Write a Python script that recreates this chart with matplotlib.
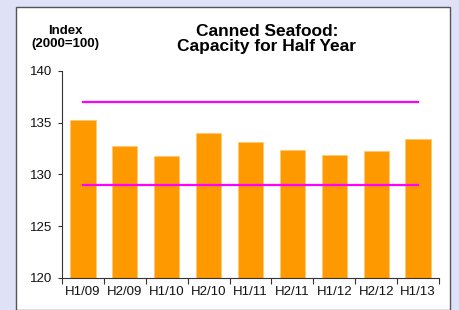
#!/usr/bin/env python

# plot.py
import matplotlib
matplotlib.use("Agg")
import matplotlib.pyplot as plt
from matplotlib.patches import Rectangle

plt.rcParams['font.family'] = ['Liberation Sans', 'DejaVu Sans']

periods = ["H1/09", "H2/09", "H1/10", "H2/10", "H1/11",
           "H2/11", "H1/12", "H2/12", "H1/13"]
capacity = [135.3, 132.7, 131.8, 134.0, 133.1, 132.4, 131.9, 132.3, 133.4]

# upper and lower reference lines
upper_ref = 137.0
lower_ref = 129.0

y_ticks = [120, 125, 130, 135, 140]


def main():
    fig = plt.figure(figsize=(4.6, 3.1), dpi=100)
    fig.patch.set_facecolor("#dfe1f6")

    # white panel behind the chart
    panel = Rectangle((16 / 460, 0), 434 / 460, 1 - 7 / 310,
                      transform=fig.transFigure, facecolor="white",
                      edgecolor="#555555", linewidth=1.0, zorder=-1)
    fig.patches.append(panel)

    ax = fig.add_axes([62 / 460, 1 - 277.7 / 310, 377 / 460, 206.7 / 310])
    ax.set_zorder(2)
    ax.set_facecolor("none")

    x = list(range(len(periods)))
    ax.bar(x, capacity, width=0.6, color="#ff9900",
           edgecolor="#ffc870", linewidth=0.6, zorder=2)

    # reference lines run from the first to the last category
    ax.plot([x[0], x[-1]], [upper_ref, upper_ref], color="#ff00ff", lw=1.6, zorder=3)
    ax.plot([x[0], x[-1]], [lower_ref, lower_ref], color="#ff00ff", lw=1.6, zorder=3)

    ax.set_xlim(-0.5, len(periods) - 0.5)
    ax.set_ylim(120, 140)
    ax.set_yticks(y_ticks)
    ax.tick_params(axis="y", labelsize=9.5, length=3, width=0.8, pad=4, colors="#333333",
                   labelcolor="#111111")

    # category labels at centres, tick marks at the boundaries
    ax.set_xticks(x)
    ax.set_xticklabels(periods)
    ax.tick_params(axis="x", which="major", length=0, labelsize=9.5, pad=6,
                   labelcolor="#111111")
    ax.set_xticks([i - 0.5 for i in range(len(periods) + 1)], minor=True)
    ax.tick_params(axis="x", which="minor", length=4, width=0.8, colors="#333333")

    for side in ["top", "right"]:
        ax.spines[side].set_visible(False)
    for side in ["left", "bottom"]:
        ax.spines[side].set_color("#333333")
        ax.spines[side].set_linewidth(0.8)

    fig.text(65 / 460, 1 - 37.5 / 310, "Index\n(2000=100)", ha="center", va="center",
             fontsize=9.5, fontweight="bold", linespacing=1.15)
    fig.text(267 / 460, 1 - 39 / 310, "Canned Seafood:\nCapacity for Half Year",
             ha="center", va="center", fontsize=12.5, fontweight="bold", linespacing=1.05)

    fig.savefig("out.png", dpi=100, facecolor=fig.get_facecolor())


if __name__ == "__main__":
    main()
